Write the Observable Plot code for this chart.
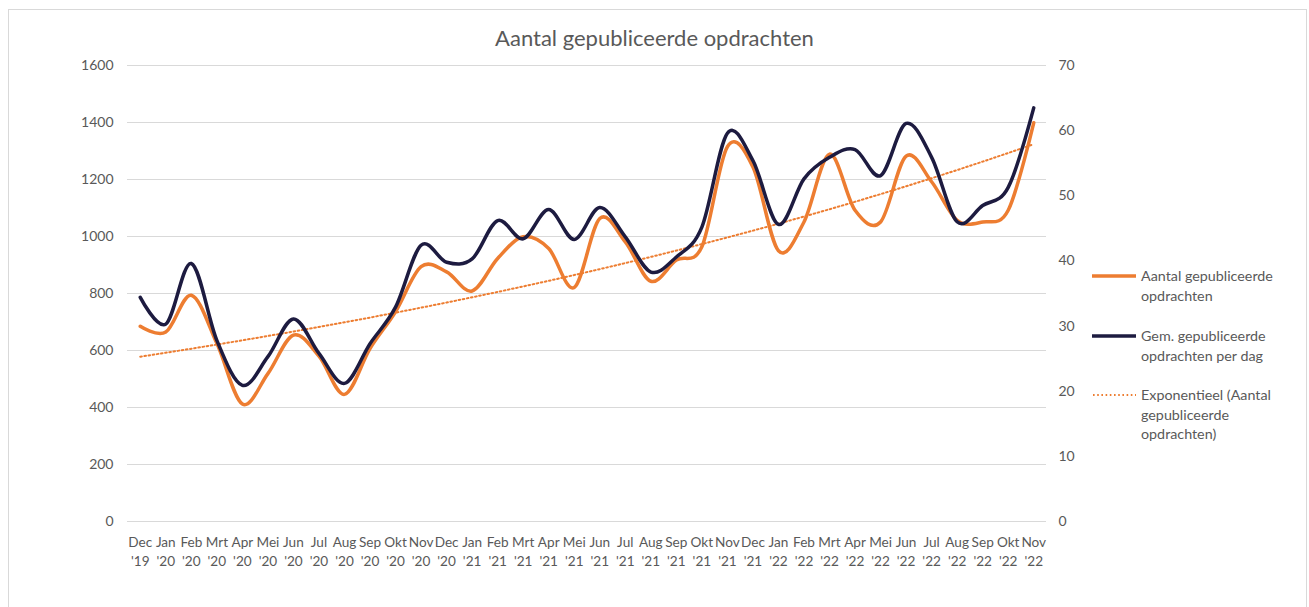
<!DOCTYPE html>
<html><head><meta charset="utf-8">
<script src="https://cdn.jsdelivr.net/npm/d3@7"></script>
<script src="https://cdn.jsdelivr.net/npm/@observablehq/plot@0.6"></script>
<style>
body{margin:0;background:#fff;overflow:hidden;font-family:Lato,"Open Sans",sans-serif;}
#wrap{position:relative;width:1309px;height:607px;overflow:hidden}
#frame{position:absolute;left:8px;top:9px;width:1299px;height:640px;border:1px solid #d9d9d9;box-sizing:border-box}
#title{position:absolute;left:0;width:1309px;top:24px;text-align:center;font-size:22px;color:#595959;line-height:28px}
#chart{position:absolute;left:0;top:50px}
.leg{position:absolute;left:1092px;font-size:14.3px;color:#595959;line-height:19.5px}
.leg svg{position:absolute;left:0;top:0}
.leg div{position:absolute;left:49px;top:0;white-space:nowrap}
</style></head>
<body>
<div id="wrap">
  <div id="frame"></div>
  <div id="title">Aantal gepubliceerde opdrachten</div>
  <div id="chart"></div>
  <div class="leg" style="top:266px"><svg width="44" height="20"><line x1="0" x2="44" y1="10" y2="10" stroke="#ED7D31" stroke-width="3.5"/></svg><div>Aantal gepubliceerde<br>opdrachten</div></div>
  <div class="leg" style="top:326px"><svg width="44" height="20"><line x1="0" x2="44" y1="10" y2="10" stroke="#1d1b40" stroke-width="3.5"/></svg><div>Gem. gepubliceerde<br>opdrachten per dag</div></div>
  <div class="leg" style="top:385px"><svg width="44" height="20"><line x1="1" x2="44" y1="10" y2="10" stroke="#ED7D31" stroke-width="2" stroke-dasharray="1.6 2.6"/></svg><div>Exponentieel (Aantal<br>gepubliceerde<br>opdrachten)</div></div>
</div>
<script>
const months = ["Dec '19","Jan '20","Feb '20","Mrt '20","Apr '20","Mei '20","Jun '20","Jul '20","Aug '20","Sep '20","Okt '20","Nov '20",
  "Dec '20","Jan '21","Feb '21","Mrt '21","Apr '21","Mei '21","Jun '21","Jul '21","Aug '21","Sep '21","Okt '21","Nov '21",
  "Dec '21","Jan '22","Feb '22","Mrt '22","Apr '22","Mei '22","Jun '22","Jul '22","Aug '22","Sep '22","Okt '22","Nov '22"];
const aantal = [685,665,794,625,412,519,654,580,446,607,736,894,876,809,923,999,958,821,1063,981,843,917,964,1315,1244,950,1051,1289,1092,1051,1282,1192,1057,1051,1092,1399];
const gemPerDag = [34.4,30.3,39.6,27.8,20.9,25.3,31.1,25.8,21.2,27.3,32.9,42.4,39.8,40.3,46.2,43.4,47.9,43.3,48.2,43.7,38.3,40.6,45.2,59.6,55.4,45.6,52.6,55.9,57.1,53.1,61.1,55.9,46.0,48.5,51.3,63.5];
const leftTicks = [0,200,400,600,800,1000,1200,1400,1600];
const rightTicks = [0,10,20,30,40,50,60,70];

const k = 1600 / 70; // right axis -> left axis
const idx = d3.range(months.length);

// Exponential trendline (least squares on log values, as in Excel)
const lx = idx, ly = aantal.map(Math.log);
const mx = d3.mean(lx), my = d3.mean(ly);
const b = d3.sum(lx, (x, i) => (x - mx) * (ly[i] - my)) / d3.sum(lx, x => (x - mx) ** 2);
const a = my - b * mx;
const trend = idx.map(i => Math.exp(a + b * i));

const orangeData = idx.map(i => ({i, v: aantal[i]}));
const navyData = idx.map(i => ({i, v: gemPerDag[i] * k}));
const trendData = idx.map(i => ({i, v: trend[i]}));

const chart = Plot.plot({
  width: 1309,
  height: 557,
  marginTop: 15,
  marginBottom: 86,
  marginLeft: 127,
  marginRight: 263,
  style: {fontFamily: "Lato, 'Open Sans', sans-serif", fontSize: "14px", color: "#595959", background: "transparent"},
  x: {type: "linear", domain: [-0.5, months.length - 0.5]},
  y: {domain: [0, 1600]},
  marks: [
    Plot.gridY(leftTicks, {stroke: "#d9d9d9", strokeOpacity: 1, strokeWidth: 1}),
    Plot.axisY(leftTicks, {anchor: "left", tickSize: 0, tickPadding: 14, label: null, fontSize: 14, tickFormat: d => String(d)}),
    Plot.axisY(rightTicks.map(v => v * k), {anchor: "right", tickSize: 0, tickPadding: 12, label: null, fontSize: 14, tickFormat: d => String(Math.round(d / k))}),
    Plot.axisX(idx, {anchor: "bottom", tickSize: 0, tickPadding: 11, label: null, fontSize: 13.6, lineHeight: 1.45, tickFormat: i => months[i].replace(" ", "\n")}),
    Plot.line(trendData, {x: "i", y: "v", stroke: "#ED7D31", strokeWidth: 2, strokeDasharray: "1.6 2.6"}),
    Plot.line(orangeData, {x: "i", y: "v", stroke: "#ED7D31", strokeWidth: 3.5, curve: "cardinal"}),
    Plot.line(navyData, {x: "i", y: "v", stroke: "#1d1b40", strokeWidth: 3.5, curve: "cardinal"})
  ]
});
document.getElementById("chart").appendChild(chart);
</script>
</body></html>
